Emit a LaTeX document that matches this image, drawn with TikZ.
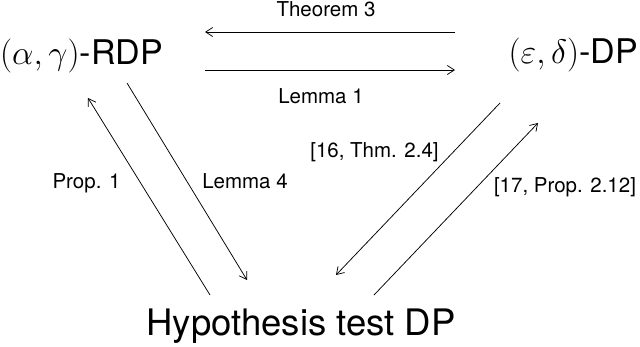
\documentclass[tikz,border=0pt]{standalone}
\usepackage{fix-cm}
\usepackage[no-math]{fontspec}
\setmainfont{TeX Gyre Heros}
\usetikzlibrary{arrows.meta}
\tikzset{
  big/.style={font=\fontsize{34}{38}\selectfont, inner sep=0pt},
  lab/.style={font=\fontsize{20.5}{24}\selectfont, inner sep=0pt},
  conn/.style={line width=0.75pt, -{Straight Barb[length=7pt,width=9pt,line width=0.75pt]}}
}
\begin{document}
\begin{tikzpicture}[x=1pt,y=-1pt]
\useasboundingbox (0,0) rectangle (640,346);
% main nodes
\node[big, anchor=base west] (rdp) at (0,64) {$(\alpha,\gamma)$-RDP};
\node[big, anchor=base east] (dp) at (638,63.5) {$(\varepsilon,\delta)$-DP};
\node[big, anchor=base, font=\fontsize{36.5}{40}\selectfont] (hyp) at (301,335) {Hypothesis test DP};
% labels
\node[lab, anchor=base] (lth3) at (326,16) {Theorem 3};
\node[lab, anchor=base] (llem1) at (321,103) {Lemma 1};
\node[lab, anchor=base] (lprop1) at (86.5,188) {Prop. 1};
\node[lab, anchor=base] (llem4) at (245,188) {Lemma 4};
\node[lab, anchor=base] (lthm24) at (374.5,157) {[16, Thm. 2.4]};
\node[lab, anchor=base] (lprop212) at (565,192) {[17, Prop. 2.12]};
% connector end points
\coordinate (a1s) at (455,32);  \coordinate (a1e) at (205,32);
\coordinate (a2s) at (205,70);  \coordinate (a2e) at (455,70);
\coordinate (a3s) at (127,83);  \coordinate (a3e) at (247,280);
\coordinate (a4s) at (210,295); \coordinate (a4e) at (88,98);
\coordinate (a5s) at (500,103); \coordinate (a5e) at (336,275);
\coordinate (a6s) at (374,295); \coordinate (a6e) at (538,123);
% connectors
\draw[conn] (a1s) -- (a1e);
\draw[conn] (a2s) -- (a2e);
\draw[conn] (a3s) -- (a3e);
\draw[conn] (a4s) -- (a4e);
\draw[conn] (a5s) -- (a5e);
\draw[conn] (a6s) -- (a6e);
\end{tikzpicture}
\end{document}
